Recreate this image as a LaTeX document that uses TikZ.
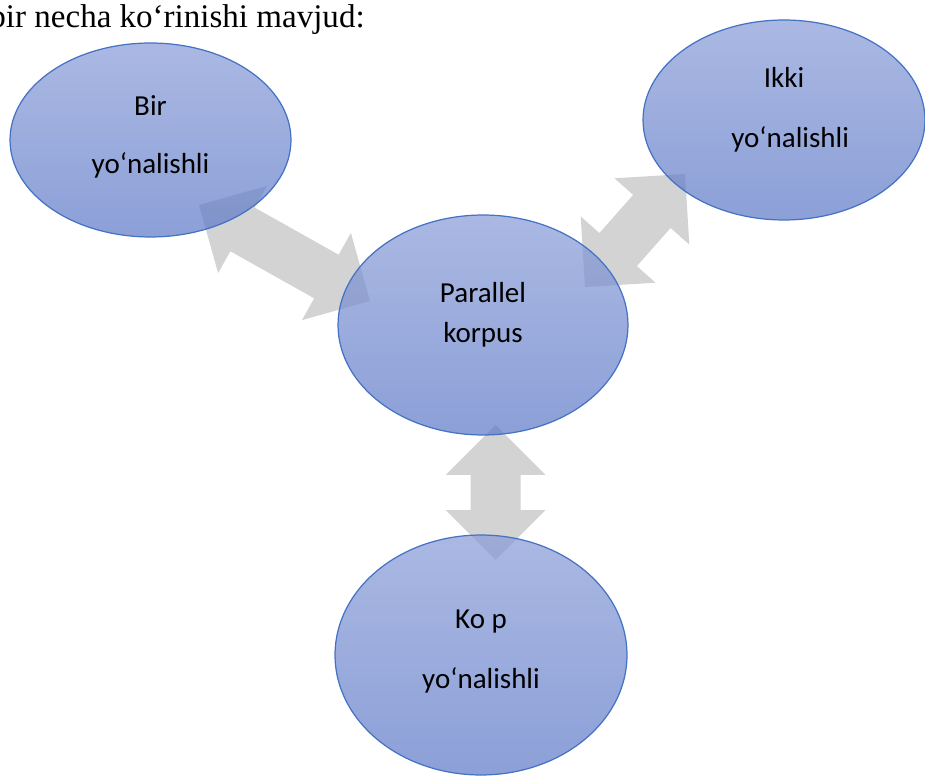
\documentclass[tikz,border=0pt]{standalone}
\usepackage{fontspec}
\setmainfont{Liberation Serif}
\newfontfamily\bodyfont{Carlito}
\usetikzlibrary{calc,shapes.geometric}
\definecolor{ovaltop}{RGB}{134,154,214}
\definecolor{ovalbottom}{RGB}{91,119,199}
\definecolor{ovalline}{RGB}{68,114,196}
\definecolor{arrowgray}{RGB}{211,211,211}
\tikzset{
  oval/.style={ellipse, draw=ovalline, line width=0.7pt, top color=ovaltop, bottom color=ovalbottom,
    fill opacity=0.7, text opacity=1, inner sep=0pt, align=center,
    font=\bodyfont\fontsize{16.5}{20}\selectfont},
}
\def\blockarrow(#1)(#2){\path ($(#1)!1cm!(#2)$) coordinate (ha) ($(#2)!1cm!(#1)$) coordinate (hb);
  \fill[arrowgray] (#1) -- ($(ha)!1cm!90:(#1)$) -- ($(ha)!0.5cm!90:(#1)$) -- ($(hb)!0.5cm!-90:(#2)$)
    -- ($(hb)!1cm!-90:(#2)$) -- (#2) -- ($(hb)!1cm!90:(#2)$) -- ($(hb)!0.5cm!90:(#2)$)
    -- ($(ha)!0.5cm!-90:(#1)$) -- ($(ha)!1cm!-90:(#1)$) -- cycle;}

\begin{document}
\begin{tikzpicture}[x=0.02cm, y=-0.02cm]
		%%%%% START %%%%%
		\useasboundingbox (0, 0) rectangle (925, 776);
		
		\node[anchor=base east, inner sep=0pt, font=\fontsize{18.8}{22}\selectfont] (title) at (365, 28) {bir necha ko‘rinishi mavjud:};
		
		% block arrows (under the ovals)
		\coordinate (bir-end) at (199, 205);
		\coordinate (par-left) at (370, 301);
		\blockarrow(bir-end)(par-left)
		
		\coordinate (par-right) at (585, 287);
		\coordinate (ikki-end) at (685, 174);
		\blockarrow(par-right)(ikki-end)
		
		\coordinate (par-bottom) at (495.7, 425);
		\coordinate (kop-end) at (495.7, 560);
		\blockarrow(par-bottom)(kop-end)
		
		% ovals
		\node[oval, text depth=6.6pt, minimum width=5.62cm, minimum height=3.88cm] (bir) at (150.5, 140) {Bir\\[13pt]yo‘nalishli};
		\node[oval, text depth=14.5pt, minimum width=5.64cm, minimum height=4cm] (ikki) at (784, 120) {Ikki\\[14pt]\hspace*{7pt}yo‘nalishli};
		\node[oval, text depth=14.5pt, minimum width=5.8cm, minimum height=4.4cm] (par) at (483, 325) {Parallel\\[2.7pt]korpus};
		\node[oval, text depth=6.6pt, minimum width=5.84cm, minimum height=4.8cm] (kop) at (481, 655) {Ko p\\[14pt]yo‘nalishli};
		
		%%%%% END %%%%%
\end{tikzpicture}
\end{document}
